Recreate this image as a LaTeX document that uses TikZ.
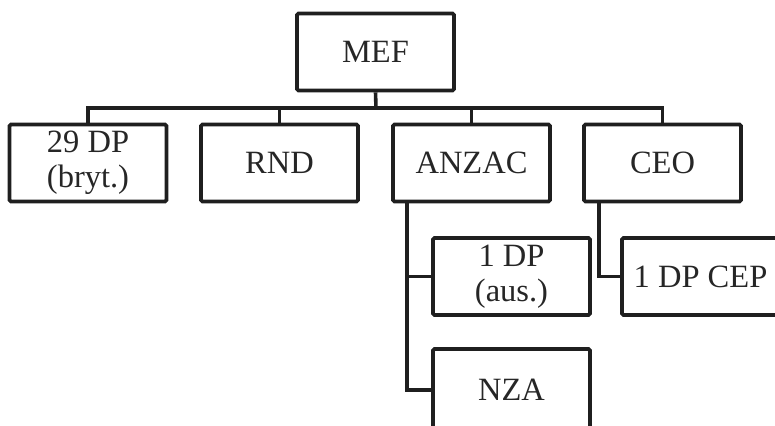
\documentclass[tikz,border=0pt]{standalone}
\usepackage{fontspec}
\setmainfont{Liberation Serif}
\begin{document}
\begin{tikzpicture}[x=1pt,y=-1pt,
  unit/.style={draw=black!88,line width=3.6pt,rounded corners=1.5pt,rectangle,
    minimum width=157pt,minimum height=77pt,inner sep=0pt,align=center,
    font=\fontsize{32.5}{35}\selectfont,text=black!85},
  link/.style={draw=black!88,line width=3.6pt}]
\useasboundingbox (0,0) rectangle (775,425);
\clip (0,0) rectangle (775,425);
\node[unit] (mef) at (375.5,52) {MEF};
\node[unit] (n29) at (88,163) {29 DP\\(bryt.)};
\node[unit] (rnd) at (279.5,163) {RND};
\node[unit] (anzac) at (471.5,163) {ANZAC};
\node[unit] (ceo) at (662.5,163) {CEO};
\node[unit] (aus) at (511.5,276.5) {1 DP\\(aus.)};
\node[unit,minimum height=82pt] (nza) at (511.5,390) {NZA};
\node[unit] (cep) at (700.5,276.5) {1 DP CEP};
\coordinate (bus) at (376,108);
\coordinate (ax) at (407,0);
\coordinate (cx) at (599,0);
\draw[link] (mef.south) -- (bus);
\draw[link] (n29.north) |- (bus) -| (ceo.north);
\draw[link] (rnd.north) -- (rnd.north |- bus);
\draw[link] (anzac.north) -- (anzac.north |- bus);
\draw[link] (anzac.south -| ax) |- (nza.west);
\draw[link] (ax |- aus.west) -- (aus.west);
\draw[link] (ceo.south -| cx) |- (cep.west);
\end{tikzpicture}
\end{document}
